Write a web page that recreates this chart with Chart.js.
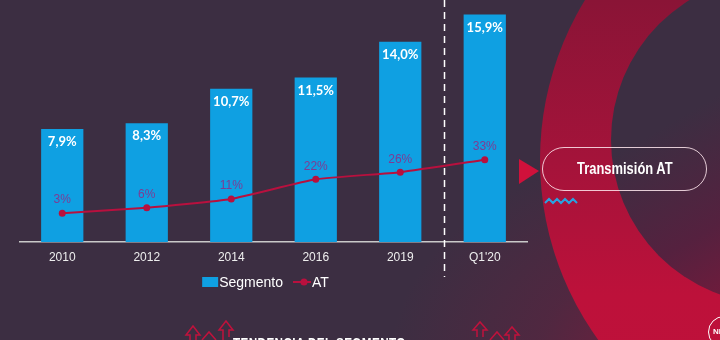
<!DOCTYPE html>
<html>
<head>
<meta charset="utf-8">
<script src="https://cdn.jsdelivr.net/npm/chart.js@4.4.0/dist/chart.umd.min.js"></script>
<style>
  html, body { margin: 0; padding: 0; }
  body { width: 720px; height: 340px; overflow: hidden; position: relative; background: #3c2e42; font-family: "Liberation Sans", Arial, sans-serif; }
  #glow { position: absolute; left: 0; top: 0; width: 720px; height: 340px;
    background: radial-gradient(ellipse 330px 220px at 720px 360px, rgba(150, 20, 58, 0.8) 0%, rgba(110, 30, 62, 0.4) 55%, rgba(60, 46, 66, 0) 100%); }
  #outer { position: absolute; left: 540px; top: -147px; width: 614px; height: 614px; border-radius: 50%;
    background: linear-gradient(180deg, #8a1436 24%, #a4133a 50%, #bd113a 72%, #c0103a 100%); }
  #inner { position: absolute; left: 611px; top: -24px; width: 328px; height: 328px; border-radius: 50%;
    background: linear-gradient(150deg, #3c2e42 35%, #55213f 60%, #8a1639 90%); }
  #wrap { position: absolute; left: 0; top: 0; width: 720px; height: 340px; }
  .pill { position: absolute; left: 542px; top: 147px; width: 163px; height: 42px; border: 1.5px solid rgba(255, 232, 238, 0.85);
    border-radius: 22px; color: #fff; display: flex; align-items: center; justify-content: center; }
  .pill span { display: inline-block; font: bold 17px "Liberation Sans", Arial, sans-serif; transform: scaleX(0.76); white-space: nowrap; }
  .foot { position: absolute; left: 233px; top: 334px; color: #fff; font: bold 15px "Liberation Sans", Arial, sans-serif;
    transform: scaleX(0.78); transform-origin: left top; letter-spacing: 0.5px; white-space: nowrap; }
  .logo { position: absolute; left: 708px; top: 316px; width: 30px; height: 30px; border: 1.5px solid #fff; border-radius: 50%;
    color: #fff; font: bold 8px "Liberation Sans", sans-serif; line-height: 30px; text-indent: 4px; overflow: hidden; }
  svg.deco { position: absolute; left: 0; top: 0; }
</style>
</head>
<body>
<div id="glow"></div>
<div id="outer"></div>
<div id="inner"></div>
<div id="wrap"><canvas id="chart" width="720" height="340"></canvas></div>
<svg class="deco" width="720" height="340">
  <polygon points="519,159 539,171 519,184" fill="#d0113b" />
  <polyline points="545,203 549,199 553,203 557,199 561,203 565,199 569,203 573,199 577,203" fill="none" stroke="#29a3e0" stroke-width="2" />
  <g fill="none" stroke="#c0123c" stroke-width="1.5">
    <path d="M190,340 L190,335 L186,335 L193,326 L200,335 L196,335 L196,340" />
    <path d="M202,340 L209,332 L216,340" />
    <path d="M223,340 L223,330 L219,330 L226,321 L233,330 L229,330 L229,337" />
    <path d="M477,337 L477,330 L473,330 L480,322 L487,330 L483,330 L483,337" />
    <path d="M490,340 L497,332 L504,340" />
    <path d="M509,340 L509,335 L505,335 L512,327 L519,335 L515,335 L515,340" />
  </g>
</svg>
<div class="pill"><span>Transmisión AT</span></div>
<div class="foot">TENDENCIA DEL SEGMENTO</div>
<div class="logo">NI</div>

<script>
const categories = ["2010", "2012", "2014", "2016", "2019", "Q1'20"];
const segmentValues = [7.9, 8.3, 10.7, 11.5, 14.0, 15.9];
const atValues = [3, 6, 11, 22, 26, 33];
const seriesNames = ["Segmento", "AT"];

const blue = "#0fa0e2";
const red = "#b8103e";
const purple = "#7e3b93";

const fmtPct = (v) => v.toFixed(1).replace(".", ",") + "%";

// dashed divider between 2019 and Q1'20
const dividerPlugin = {
  id: "divider",
  beforeDatasetsDraw(chart) {
    const x = chart.scales.x;
    const px = (x.getPixelForValue(4) + x.getPixelForValue(5)) / 2 + 2;
    const ctx = chart.ctx;
    ctx.save();
    ctx.strokeStyle = "#ffffff";
    ctx.lineWidth = 1.5;
    ctx.setLineDash([7, 5]);
    ctx.beginPath();
    ctx.moveTo(px, 0);
    ctx.lineTo(px, 277);
    ctx.stroke();
    ctx.restore();
  },
};

// value labels on bars and points
const labelsPlugin = {
  id: "valueLabels",
  afterDatasetsDraw(chart) {
    const ctx = chart.ctx;
    ctx.save();
    ctx.textAlign = "center";
    ctx.textBaseline = "middle";
    chart.getDatasetMeta(0).data.forEach((bar, i) => {
      ctx.fillStyle = "#ffffff";
      ctx.font = "bold 13px Lato, 'DejaVu Sans Condensed', sans-serif";
      ctx.fillText(fmtPct(segmentValues[i]), bar.x, bar.y + 13);
    });
    chart.getDatasetMeta(1).data.forEach((pt, i) => {
      ctx.fillStyle = purple;
      ctx.font = "12px 'Liberation Sans', Arial, sans-serif";
      ctx.fillText(atValues[i] + "%", pt.x, pt.y - 13);
    });
    ctx.restore();
  },
};

// legend: blue box + line with dot
const legendPlugin = {
  id: "customLegend",
  afterDraw(chart) {
    const ctx = chart.ctx;
    const y = 282;
    ctx.save();
    ctx.font = "14px 'Liberation Sans', Arial, sans-serif";
    ctx.textBaseline = "middle";
    ctx.textAlign = "left";
    const w1 = ctx.measureText(seriesNames[0]).width;
    const w2 = ctx.measureText(seriesNames[1]).width;
    const total = 17 + w1 + 10 + 19 + w2;
    let x = (chart.chartArea.left + chart.chartArea.right) / 2 - 8 - total / 2;
    ctx.fillStyle = blue;
    ctx.fillRect(x, y - 5, 16, 10);
    ctx.fillStyle = "#ffffff";
    ctx.fillText(seriesNames[0], x + 17, y + 1);
    x += 17 + w1 + 10;
    ctx.strokeStyle = red;
    ctx.lineWidth = 2;
    ctx.beginPath();
    ctx.moveTo(x, y);
    ctx.lineTo(x + 18, y);
    ctx.stroke();
    ctx.fillStyle = red;
    ctx.beginPath();
    ctx.arc(x + 11, y, 3.5, 0, Math.PI * 2);
    ctx.fill();
    ctx.fillStyle = "#ffffff";
    ctx.fillText(seriesNames[1], x + 19, y + 1);
    ctx.restore();
  },
};

const ctx = document.getElementById("chart").getContext("2d");
new Chart(ctx, {
  type: "bar",
  data: {
    labels: categories,
    datasets: [
      {
        type: "bar",
        label: seriesNames[0],
        data: segmentValues,
        backgroundColor: blue,
        borderWidth: 0,
        categoryPercentage: 1,
        barPercentage: 0.5,
        yAxisID: "y",
        order: 1,
      },
      {
        type: "line",
        label: seriesNames[1],
        data: atValues,
        borderColor: red,
        backgroundColor: red,
        borderWidth: 2,
        pointRadius: 3.5,
        pointBackgroundColor: red,
        pointBorderWidth: 0,
        tension: 0.15,
        yAxisID: "y2",
        order: 0,
        clip: false,
      },
    ],
  },
  options: {
    responsive: false,
    animation: false,
    layout: { padding: { left: 20, right: 193, top: 13, bottom: 0 } },
    scales: {
      x: {
        grid: { display: false, drawTicks: false },
        border: { display: true, color: "#c9c9c9", width: 1.5 },
        ticks: { color: "#eeeeee", padding: 8, font: { size: 12, family: "'Liberation Sans', Arial, sans-serif" } },
        afterFit(scale) { scale.height = 98; },
      },
      y: { display: false, min: 0, max: 16 },
      y2: { display: false, min: -13.2, max: 115.4 },
    },
    plugins: {
      legend: { display: false },
      tooltip: { enabled: false },
    },
  },
  plugins: [dividerPlugin, labelsPlugin, legendPlugin],
});
</script>
</body>
</html>
